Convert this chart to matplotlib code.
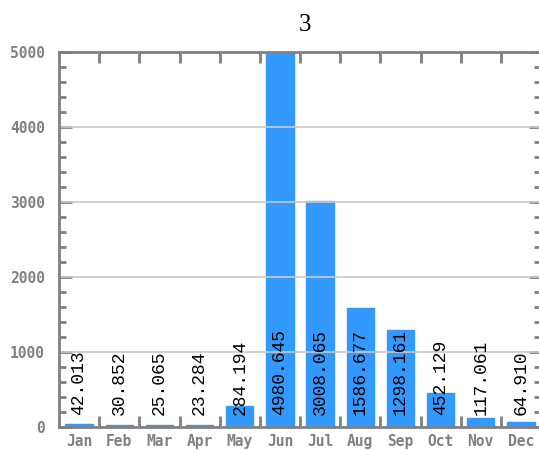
import numpy as np
import matplotlib
matplotlib.use("Agg")
import matplotlib.pyplot as plt
from matplotlib.ticker import MultipleLocator, FixedLocator

months = ["Jan", "Feb", "Mar", "Apr", "May", "Jun",
          "Jul", "Aug", "Sep", "Oct", "Nov", "Dec"]
values = [42.013, 30.852, 25.065, 23.284, 284.194, 4980.645,
          3008.065, 1586.677, 1298.161, 452.129, 117.061, 64.910]
title = "3"

grey = "#808080"
fig = plt.figure(figsize=(5.39, 4.5), dpi=100)
ax = fig.add_axes([59 / 539, 23 / 450, 482 / 539, 375 / 450])

x = np.arange(len(months))
ax.bar(x, values, width=0.68, color="#3399ff", edgecolor="#3399ff", zorder=1)

# value labels, rotated, sitting near the base
for i, v in enumerate(values):
    ax.text(i, 160, f"{v:.3f}", rotation=90, ha="center", va="bottom",
            family="Liberation Mono", fontsize=13, color="black", zorder=3)

ax.set_xlim(-0.5, 11.5)
ax.set_ylim(0, 5000)

# grid over bars
for g in [1000, 2000, 3000, 4000]:
    ax.axhline(g, color="#c8c8c8", lw=1.2, zorder=2)

ax.set_xticks(x)
ax.set_xticklabels(months)
ax.xaxis.set_minor_locator(FixedLocator(np.arange(0.5, 11, 1)))
ax.tick_params(axis="x", which="major", length=0, pad=5)
ax.tick_params(axis="x", which="minor", direction="in", length=8, width=2,
               color=grey, top=True, bottom=True)

ax.yaxis.set_major_locator(MultipleLocator(1000))
ax.yaxis.set_minor_locator(MultipleLocator(200))
ax.tick_params(axis="y", which="major", direction="in", length=9, width=2,
               color=grey, left=True, right=True, pad=10)
ax.tick_params(axis="y", which="minor", direction="in", length=5, width=2,
               color=grey, left=True, right=True)

for lab in ax.get_xticklabels() + ax.get_yticklabels():
    lab.set_family("DejaVu Sans Mono")
    lab.set_fontweight("bold")
    lab.set_fontsize(10.5)
    lab.set_color(grey)

for s in ax.spines.values():
    s.set_color(grey)
    s.set_linewidth(2)
ax.spines["right"].set_visible(False)

fig.text(305 / 539, 1 - 25 / 450, title, ha="center", va="center",
         family="Liberation Serif", fontsize=18)

fig.savefig("out.png", dpi=100)
